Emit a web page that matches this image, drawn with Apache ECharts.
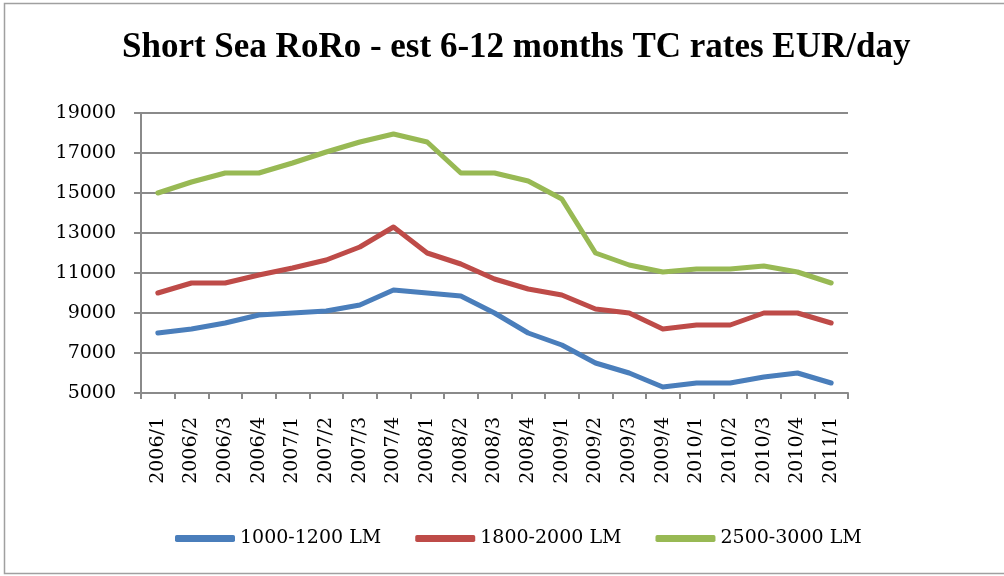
<!DOCTYPE html>
<html>
<head>
<meta charset="utf-8">
<script src="https://cdn.jsdelivr.net/npm/echarts@6/dist/echarts.min.js"></script>
<style>
  html, body { margin: 0; padding: 0; background: #fff; }
  #chart { width: 1004px; height: 576px; }
</style>
</head>
<body>
<div id="chart"></div>
<script>
// quarters on the x axis
const quarters = [
  '2006/1', '2006/2', '2006/3', '2006/4',
  '2007/1', '2007/2', '2007/3', '2007/4',
  '2008/1', '2008/2', '2008/3', '2008/4',
  '2009/1', '2009/2', '2009/3', '2009/4',
  '2010/1', '2010/2', '2010/3', '2010/4',
  '2011/1',
]

// EUR/day
const lm1000 = [8000, 8200, 8500, 8900, 9000, 9100, 9400, 10150, 10000, 9850,
  9000, 8000, 7400, 6500, 6000, 5300, 5500, 5500, 5800, 6000, 5500]
const lm1800 = [10000, 10500, 10500, 10900, 11250, 11650, 12300, 13300, 12000, 11450,
  10700, 10200, 9900, 9200, 9000, 8200, 8400, 8400, 9000, 9000, 8500]
const lm2500 = [15000, 15550, 16000, 16000, 16500, 17050, 17550, 17950, 17550, 16000,
  16000, 15600, 14700, 12000, 11400, 11050, 11200, 11200, 11350, 11050, 10500]

const seriesNames = ['1000-1200 LM', '1800-2000 LM', '2500-3000 LM']
const seriesColors = ['#4a7ebb', '#be4b48', '#98b954']

const titleFont = '"Liberation Serif", serif'
const font = '"DejaVu Serif", serif'
const gridGrey = '#8a8a8a'

const chart = echarts.init(document.getElementById('chart'))

chart.setOption({
  animation: false,
  title: {
    text: 'Short Sea RoRo - est 6-12 months TC rates EUR/day',
    left: 117,
    top: 25,
    textStyle: { fontFamily: titleFont, fontSize: 35, fontWeight: 'bold', color: '#000' },
  },
  graphic: [{
    // outer chart frame
    type: 'rect',
    shape: { x: 4.5, y: 3.5, width: 1100, height: 570 },
    style: { fill: 'none', stroke: '#a0a0a0', lineWidth: 1.5 },
    silent: true,
  }],
  legend: {
    bottom: 23,
    left: 170,
    itemWidth: 60,
    itemHeight: 7,
    itemGap: 34,
    icon: 'roundRect',
    textStyle: { fontFamily: font, fontSize: 19, color: '#000' },
    data: seriesNames,
  },
  grid: { left: 141, right: 156, top: 113, bottom: 183 },
  xAxis: {
    type: 'category',
    data: quarters,
    boundaryGap: true,
    axisLine: { lineStyle: { color: gridGrey, width: 2 } },
    axisTick: { show: true, length: 6, lineStyle: { color: gridGrey, width: 2 } },
    axisLabel: {
      rotate: 90,
      interval: 0,
      margin: 24,
      fontFamily: font,
      fontSize: 19,
      color: '#000',
    },
  },
  yAxis: {
    type: 'value',
    min: 5000,
    max: 19000,
    interval: 2000,
    axisLine: { show: true, lineStyle: { color: gridGrey, width: 2 } },
    axisTick: { show: true, length: 7, lineStyle: { color: gridGrey, width: 2 } },
    splitLine: { lineStyle: { color: gridGrey, width: 2 } },
    axisLabel: {
      margin: 25,
      fontFamily: font,
      fontSize: 19,
      color: '#000',
      formatter: (v) => String(v),
    },
  },
  series: [lm1000, lm1800, lm2500].map((vals, i) => ({
    name: seriesNames[i],
    type: 'line',
    data: vals,
    symbol: 'none',
    color: seriesColors[i],
    lineStyle: { width: 5, color: seriesColors[i], cap: 'round', join: 'round' },
  })),
})
</script>
</body>
</html>
